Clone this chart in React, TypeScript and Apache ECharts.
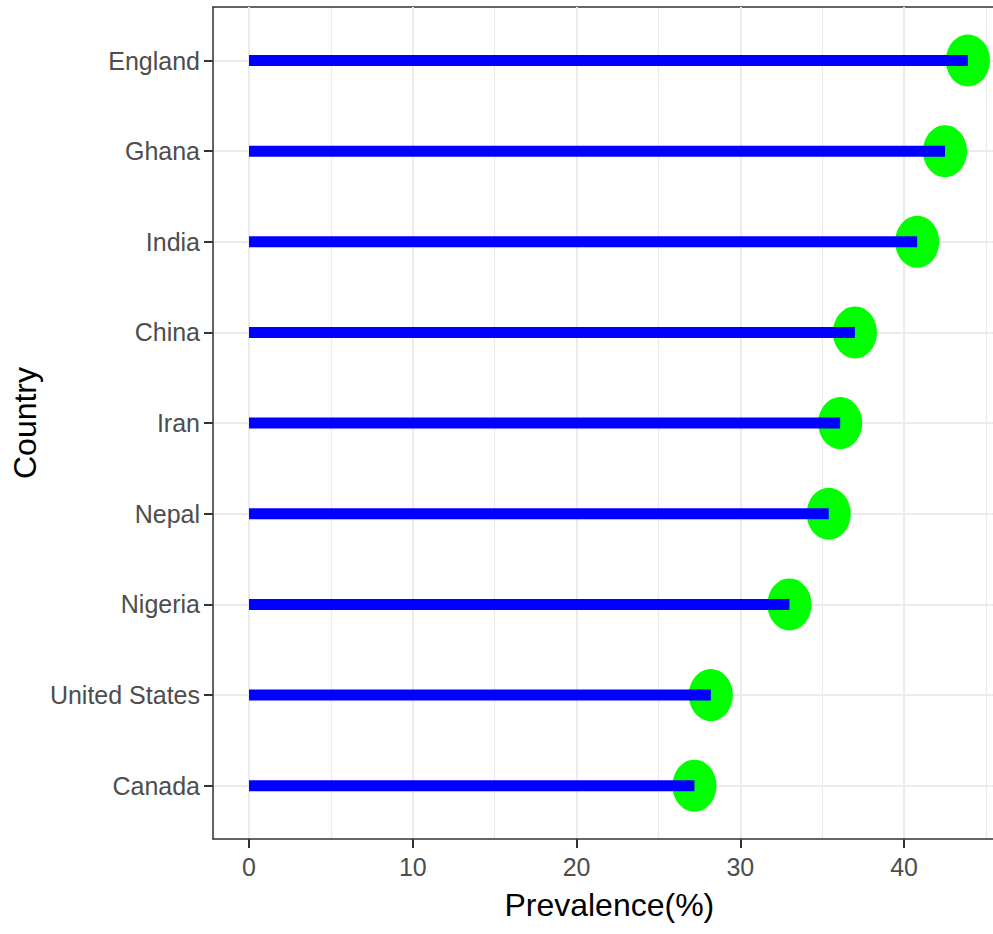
import React, { useEffect, useRef } from "react";
import * as echarts from "echarts";

// Categories listed bottom to top (ECharts category y-axis starts at the bottom)
const countries = ["Canada", "United States", "Nigeria", "Nepal", "Iran", "China", "India", "Ghana", "England"];
const prevalence = [27.2, 28.2, 33.0, 35.4, 36.1, 37.0, 40.8, 42.5, 43.9];
const majorTicks = [0, 10, 20, 30, 40];
const xTitle = "Prevalence(%)";
const yTitle = "Country";

const X_MIN = -2.2;
const X_MAX = 46.2;

export default function App() {
  const ref = useRef<HTMLDivElement>(null);

  useEffect(() => {
    if (!ref.current) return;
    const chart = echarts.init(ref.current, null, { renderer: "svg" });
    const font = "Liberation Sans, Arial, sans-serif";
    const gridLeft = 213;
    const gridRight = -12.6;
    const option: any = {
      animation: false,
      backgroundColor: "#FFFFFF",
      textStyle: { fontFamily: font },
      grid: [
        // data grid: first category to last category
        { left: gridLeft, right: gridRight, top: 60.5, bottom: 148.3, containLabel: false, outerBoundsMode: "none" },
        // panel frame grid
        { left: gridLeft, right: gridRight, top: 7, bottom: 95, containLabel: false, outerBoundsMode: "none" },
      ],
      xAxis: [
        {
          gridIndex: 0,
          type: "value",
          min: X_MIN,
          max: X_MAX,
          show: false,
        },
        {
          // major axis with ticks, labels and title
          gridIndex: 1,
          type: "value",
          position: "bottom",
          min: X_MIN,
          max: X_MAX,
          splitNumber: 5,
          name: xTitle,
          nameLocation: "middle",
          nameGap: 50,
          nameTextStyle: { fontSize: 32, color: "#000000", fontFamily: font },
          axisLine: { show: true, onZero: false, lineStyle: { color: "#333333", width: 1.5 } },
          axisTick: { show: true, length: 9, lineStyle: { color: "#333333", width: 2 }, customValues: majorTicks },
          axisLabel: {
            show: true,
            fontSize: 25,
            color: "#4D4D4D",
            margin: 15,
            fontFamily: font,
            customValues: majorTicks,
          },
          splitLine: { show: true, lineStyle: { color: "#EBEBEB", width: 2 } },
          z: 1,
        },
        {
          // minor gridlines
          gridIndex: 1,
          type: "value",
          position: "bottom",
          min: X_MIN,
          max: X_MAX,
          splitNumber: 10,
          axisLine: { show: false },
          axisTick: { show: false },
          axisLabel: { show: false },
          splitLine: { show: true, lineStyle: { color: "#EBEBEB", width: 1.2 } },
          z: 0,
        },
        {
          // top border
          gridIndex: 1,
          type: "value",
          position: "top",
          min: X_MIN,
          max: X_MAX,
          axisLine: { show: true, onZero: false, lineStyle: { color: "#333333", width: 1.5 } },
          axisTick: { show: false },
          axisLabel: { show: false },
          splitLine: { show: false },
        },
      ],
      yAxis: [
        {
          gridIndex: 0,
          type: "category",
          data: countries,
          boundaryGap: false,
          axisLine: { show: false, onZero: false },
          axisTick: { show: true, length: 9, alignWithLabel: true, lineStyle: { color: "#333333", width: 2 } },
          axisLabel: { show: true, fontSize: 25, color: "#4D4D4D", margin: 13, fontFamily: font },
          splitLine: { show: true, lineStyle: { color: "#EBEBEB", width: 2 } },
        },
        {
          gridIndex: 1,
          type: "value",
          min: 0,
          max: 1,
          name: yTitle,
          nameLocation: "middle",
          nameRotate: 90,
          nameGap: 172,
          nameTextStyle: { fontSize: 32, color: "#000000", fontFamily: font },
          axisLine: { show: true, onZero: false, lineStyle: { color: "#333333", width: 1.5 } },
          axisTick: { show: false },
          axisLabel: { show: false },
          splitLine: { show: false },
        },
      ],
      series: [
        {
          type: "scatter",
          xAxisIndex: 0,
          yAxisIndex: 0,
          data: prevalence.map((v, i) => [v, countries[i]]),
          symbol: "circle",
          symbolSize: [44, 52],
          itemStyle: { color: "#00FF00", opacity: 1 },
          z: 3,
        },
        {
          type: "bar",
          xAxisIndex: 0,
          yAxisIndex: 0,
          data: prevalence.map((v, i) => [v, countries[i]]),
          barWidth: 11,
          itemStyle: { color: "#0000FF" },
          z: 4,
        },
      ],
    };
    chart.setOption(option);
    return () => chart.dispose();
  }, []);

  return (
    <div
      ref={ref}
      style={{ position: "fixed", left: 0, top: 0, width: 993, height: 934, background: "#FFFFFF" }}
    />
  );
}
